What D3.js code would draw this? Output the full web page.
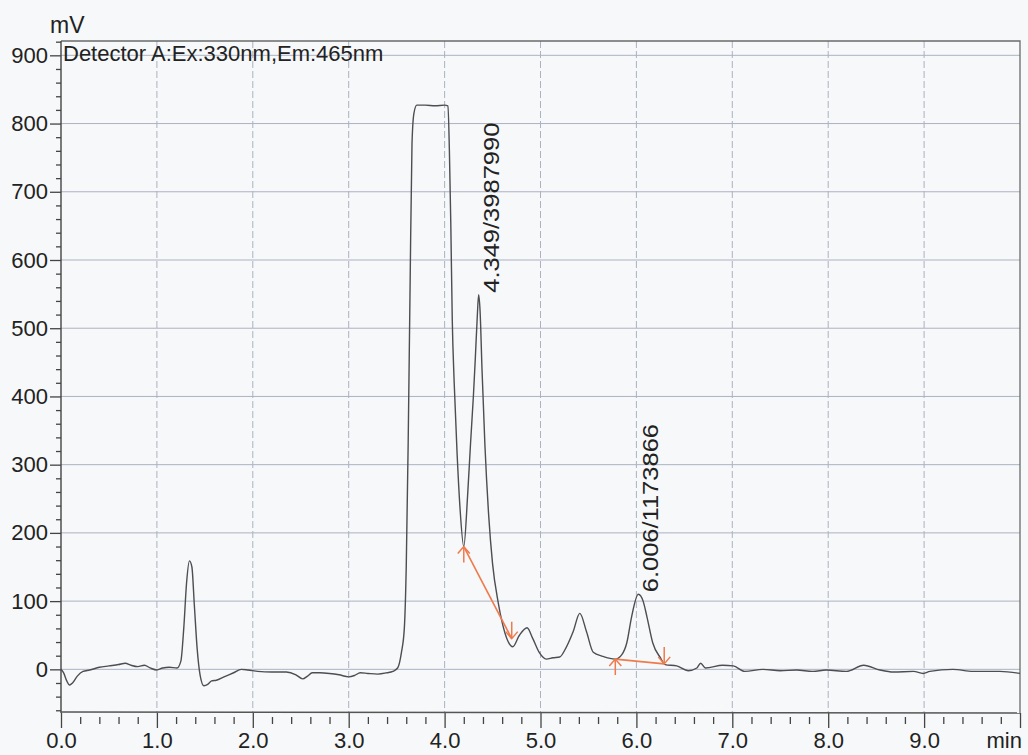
<!DOCTYPE html>
<html>
<head>
<meta charset="utf-8">
<script src="https://cdn.jsdelivr.net/npm/d3@7"></script>
<style>
  html, body { margin: 0; padding: 0; background: #f6f8f9; }
  svg { display: block; }
  text { font-family: "Liberation Sans", Arial, sans-serif; fill: #222; }
</style>
</head>
<body>
<svg id="chart" width="1028" height="755"></svg>
<script>
// retention time (min) and detector signal (mV)
const times = [
  0.00, 0.03, 0.06, 0.09, 0.12, 0.17, 0.23, 0.30, 0.40, 0.50, 0.60, 0.67, 0.73, 0.80, 0.87, 0.93,
  1.00, 1.06, 1.13, 1.21, 1.25, 1.28, 1.31, 1.34, 1.365, 1.39, 1.42, 1.45, 1.49, 1.53, 1.57, 1.62,
  1.70, 1.80, 1.88, 1.95, 2.05, 2.20, 2.35, 2.45, 2.52, 2.57, 2.62, 2.70, 2.80, 2.90, 3.00, 3.06,
  3.12, 3.20, 3.30, 3.40, 3.46, 3.51, 3.55, 3.58, 3.60, 3.62, 3.64, 3.66, 3.68, 3.71, 3.80, 3.90,
  4.00, 4.035, 4.05, 4.065, 4.08, 4.10, 4.13, 4.16, 4.20, 4.24, 4.27, 4.30, 4.32, 4.34, 4.355, 4.37,
  4.39, 4.42, 4.46, 4.50, 4.56, 4.63, 4.71, 4.78, 4.86, 4.92, 4.99, 5.06, 5.13, 5.20, 5.26, 5.34,
  5.41, 5.48, 5.55, 5.65, 5.78, 5.85, 5.90, 5.95, 6.02, 6.07, 6.11, 6.17, 6.25, 6.30, 6.42, 6.54,
  6.63, 6.67, 6.72, 6.90, 7.01, 7.13, 7.32, 7.50, 7.67, 7.84, 7.98, 8.19, 8.37, 8.54, 8.68, 8.89,
  8.99, 9.06, 9.30, 9.51, 9.79, 10.00
];
const signal = [
  0, -6, -17, -23, -20, -10, -3, -1, 3, 5, 7, 9, 6, 4, 6, 2,
  -1, 2, 3, 2, 12, 60, 128, 159, 150, 95, 30, -8, -24, -22, -17, -16,
  -11, -5, 0, -1, -3, -4, -4, -8, -14, -10, -5, -5, -6, -8, -11, -9,
  -5, -6, -7, -5, -3, 2, 25, 60, 150, 330, 560, 770, 815, 827, 827, 826,
  827, 826, 760, 650, 512, 420, 317, 238, 180, 255, 330, 400, 455, 515, 549, 525,
  440, 330, 225, 155, 97, 53, 33, 50, 61, 45, 24, 15, 17, 18, 30, 55,
  82, 55, 25, 19, 15, 22, 39, 77, 110, 100, 77, 39, 17, 7, 5, -2,
  2, 9, 2, 6, 5, -3, 0, -2, -1, -3, -1, -3, 6, -1, -4, -3,
  -6, -3, 0, -3, -3, -6
];

// integrated peaks
const peakTimes = [4.349, 6.006];
const peakAreas = [3987990, 1173866];
const baseStartT = [4.20, 5.78];
const baseStartV = [180, 15];
const baseEndT = [4.70, 6.29];
const baseEndV = [45, 8];

const xMajor = [0, 1, 2, 3, 4, 5, 6, 7, 8, 9, 10];
const xLabels = ["0.0", "1.0", "2.0", "3.0", "4.0", "5.0", "6.0", "7.0", "8.0", "9.0"];
const yMajor = [0, 100, 200, 300, 400, 500, 600, 700, 800, 900];

const svg = d3.select("#chart");
const plotL = 61, plotR = 1020, plotT = 41, plotB = 713;

const x = d3.scaleLinear().domain([0, 10]).range([plotL, plotR]);
const y = d3.scaleLinear().domain([-64, 921]).range([plotB, plotT]);

const gridColor = "#adb1c3";

// grid
svg.append("g").selectAll("line")
  .data(yMajor)
  .enter().append("line")
    .attr("x1", plotL).attr("x2", plotR)
    .attr("y1", d => y(d)).attr("y2", d => y(d))
    .style("stroke", gridColor)
    .style("stroke-width", 1);

svg.append("g").selectAll("line")
  .data(xMajor.slice(1, -1))
  .enter().append("line")
    .attr("x1", d => x(d)).attr("x2", d => x(d))
    .attr("y1", plotT).attr("y2", plotB)
    .style("stroke", gridColor)
    .style("stroke-width", 1)
    .style("stroke-dasharray", "7,3");

// frame top / right
svg.append("path")
  .attr("d", `M${plotL},${plotT}H${plotR}V${plotB}`)
  .style("fill", "none")
  .style("stroke", "#6a6a6a")
  .style("stroke-width", 1.3);

// y axis
const yMinor = d3.range(-60, 921, 20).filter(v => v % 100 !== 0);

svg.append("g")
  .attr("transform", `translate(${plotL},0)`)
  .call(d3.axisLeft(y).tickValues(yMinor).tickSize(5).tickFormat(""))
  .call(g => g.select(".domain").remove())
  .call(g => g.selectAll("line").style("stroke", "#444").style("stroke-width", 1.3));

const yAxis = svg.append("g")
  .attr("transform", `translate(${plotL},0)`)
  .call(d3.axisLeft(y).tickValues(yMajor).tickSize(11).tickPadding(2))
  .call(g => g.select(".domain").remove());
yAxis.selectAll("line").style("stroke", "#444").style("stroke-width", 1.3);
yAxis.selectAll("text")
  .style("font-size", "22px")
  .style("fill", "#222")
  .style("font-family", "'Liberation Sans', Arial, sans-serif");

svg.append("line")
  .attr("x1", plotL).attr("x2", plotL)
  .attr("y1", plotT).attr("y2", plotB)
  .style("stroke", "#444")
  .style("stroke-width", 1.4);

// x axis
const xMinor = d3.range(0.2, 10, 0.2).filter(v => Math.abs(v - Math.round(v)) > 0.01);

svg.append("g")
  .attr("transform", `translate(0,${plotB + 4})`)
  .call(d3.axisBottom(x).tickValues(xMinor).tickSize(7).tickFormat(""))
  .call(g => g.select(".domain").remove())
  .call(g => g.selectAll("line").style("stroke", "#444").style("stroke-width", 1.3));

const xAxis = svg.append("g")
  .attr("transform", `translate(0,${plotB})`)
  .call(d3.axisBottom(x).tickValues(xMajor).tickSize(15)
    .tickFormat((d, i) => xLabels[i] || ""))
  .call(g => g.select(".domain").remove());
xAxis.selectAll("line").style("stroke", "#444").style("stroke-width", 1.3);
xAxis.selectAll("text")
  .attr("y", 35)
  .attr("dy", null)
  .style("font-size", "22px")
  .style("fill", "#222")
  .style("font-family", "'Liberation Sans', Arial, sans-serif");

svg.append("line")
  .attr("x1", plotL).attr("x2", plotR)
  .attr("y1", plotB - 1).attr("y2", plotB)
  .style("stroke", "#555")
  .style("stroke-width", 1.4);

svg.append("text")
  .attr("x", x(10) + 2)
  .attr("y", plotB + 35)
  .attr("text-anchor", "end")
  .style("font-size", "22px")
  .text("min");

svg.append("text")
  .attr("x", 50)
  .attr("y", 33)
  .style("font-size", "23px")
  .text("mV");

svg.append("text")
  .attr("x", plotL + 2)
  .attr("y", 61)
  .style("font-size", "22px")
  .text("Detector A:Ex:330nm,Em:465nm");

// trace
const points = times.map((t, i) => [t, signal[i]]);
const line = d3.line()
  .x(d => x(d[0]))
  .y(d => y(d[1]))
  .curve(d3.curveMonotoneX);

svg.append("path")
  .datum(points)
  .attr("d", line)
  .style("fill", "none")
  .style("stroke", "#4d4d52")
  .style("stroke-width", 1.4);

// integration baselines with start/end markers
const orange = "#ef7a4c";
const bl = svg.append("g");
baseStartT.forEach((t, i) => {
  const x1 = x(t), y1 = y(baseStartV[i]);
  const x2 = x(baseEndT[i]), y2 = y(baseEndV[i]);
  bl.append("line")
    .attr("x1", x1).attr("y1", y1).attr("x2", x2).attr("y2", y2)
    .style("stroke", orange).style("stroke-width", 1.6);
  // up arrow under start
  bl.append("path")
    .attr("d", `M${x1},${y1}V${y1 + 16}M${x1 - 6},${y1 + 7}L${x1},${y1}L${x1 + 6},${y1 + 7}`)
    .style("fill", "none").style("stroke", orange).style("stroke-width", 1.5);
  // down arrow over end
  bl.append("path")
    .attr("d", `M${x2},${y2}V${y2 - 17}M${x2 - 6},${y2 - 7}L${x2},${y2}L${x2 + 6},${y2 - 7}`)
    .style("fill", "none").style("stroke", orange).style("stroke-width", 1.5);
});

// peak labels
peakTimes.forEach((t, i) => {
  const near = points.filter(p => Math.abs(p[0] - t) < 0.06);
  const apex = d3.max(near, p => p[1]);
  svg.append("text")
    .attr("transform", `translate(${x(t) + 13},${y(apex) - 2}) rotate(-90) scale(1.16,1)`)
    .attr("dy", "0.35em")
    .style("font-size", "22px")
    .text(t.toFixed(3) + "/" + peakAreas[i]);
});
</script>
</body>
</html>
